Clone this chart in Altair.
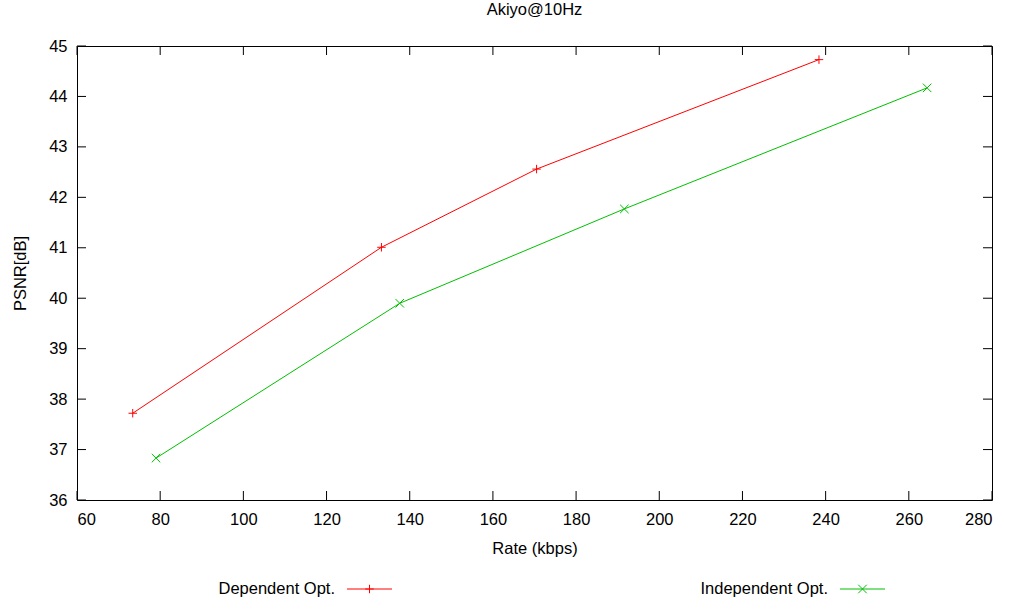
import altair as alt
import pandas as pd

series_names = ["Dependent Opt.", "Independent Opt."]
colors = ["#ff0000", "#00c000"]

rate_dep = [73.4, 133.2, 170.5, 238.4]
psnr_dep = [37.72, 41.01, 42.56, 44.73]
rate_ind = [79.0, 137.6, 191.6, 264.4]
psnr_ind = [36.83, 39.90, 41.77, 44.17]

x_ticks = [60, 80, 100, 120, 140, 160, 180, 200, 220, 240, 260, 280]
y_ticks = [36, 37, 38, 39, 40, 41, 42, 43, 44, 45]

W, H = 915, 454
FONT = "Liberation Sans"
FS = 16.5
TICK = 9

PLUS = "M-1,0L1,0M0,-1L0,1"
CROSS = "M-1,-1L1,1M-1,1L1,-1"
shapes = [PLUS, CROSS]

df = pd.DataFrame({
    "rate": rate_dep + rate_ind,
    "psnr": psnr_dep + psnr_ind,
    "series": [series_names[0]] * len(rate_dep) + [series_names[1]] * len(rate_ind),
})

xscale = alt.Scale(domain=[60, 280], nice=False, zero=False)
yscale = alt.Scale(domain=[36, 45], nice=False, zero=False)
cscale = alt.Scale(domain=series_names, range=colors)
sscale = alt.Scale(domain=series_names, range=shapes)

axis_style = dict(labelFont=FONT, labelFontSize=FS, labelColor="black",
                  titleFont=FONT, titleFontSize=FS, titleColor="black",
                  titleFontWeight="normal", ticks=False, tickSize=0,
                  domain=False, grid=False)

xaxis = alt.Axis(values=x_ticks, labelPadding=11, title="Rate (kbps)", titlePadding=13,
                 **axis_style)
yaxis = alt.Axis(values=y_ticks, labelPadding=10, title="PSNR[dB]", titlePadding=20,
                 **axis_style)

base = alt.Chart(df)

lines = base.mark_line(strokeWidth=1).encode(
    x=alt.X("rate:Q", scale=xscale, axis=xaxis),
    y=alt.Y("psnr:Q", scale=yscale, axis=yaxis),
    color=alt.Color("series:N", scale=cscale, legend=None),
)

points = base.mark_point(filled=False, size=72, strokeWidth=1, opacity=1).encode(
    x=alt.X("rate:Q", scale=xscale),
    y=alt.Y("psnr:Q", scale=yscale),
    color=alt.Color("series:N", scale=cscale, legend=None),
    shape=alt.Shape("series:N", scale=sscale, legend=None),
)

xt = alt.Chart(pd.DataFrame({"t": x_ticks}))
yt = alt.Chart(pd.DataFrame({"t": y_ticks}))

xticks_bottom = xt.mark_rule(color="black", strokeWidth=1).encode(
    x=alt.X("t:Q", scale=xscale), y=alt.value(H - TICK), y2=alt.value(H))
xticks_top = xt.mark_rule(color="black", strokeWidth=1).encode(
    x=alt.X("t:Q", scale=xscale), y=alt.value(0), y2=alt.value(TICK))
yticks_left = yt.mark_rule(color="black", strokeWidth=1).encode(
    y=alt.Y("t:Q", scale=yscale), x=alt.value(0), x2=alt.value(TICK))
yticks_right = yt.mark_rule(color="black", strokeWidth=1).encode(
    y=alt.Y("t:Q", scale=yscale), x=alt.value(W - TICK), x2=alt.value(W))

# legend (below the plot)
LY = 543
leg_layers = []
leg_pos = [(258, 270, 315), (751, 763, 808)]
for i, name in enumerate(series_names):
    tx, l0, l1 = leg_pos[i]
    ldf = pd.DataFrame({"s": [name]})
    lc = alt.Chart(ldf)
    leg_layers.append(lc.mark_text(align="right", baseline="middle", font=FONT, fontSize=FS,
                                   color="black").encode(
        x=alt.value(tx), y=alt.value(LY), text="s:N"))
    leg_layers.append(lc.mark_rule(color=colors[i], strokeWidth=1).encode(
        x=alt.value(l0), x2=alt.value(l1), y=alt.value(LY)))
    leg_layers.append(lc.mark_point(shape=shapes[i], filled=False, size=72, strokeWidth=1,
                                    color=colors[i], opacity=1).encode(
        x=alt.value((l0 + l1) / 2), y=alt.value(LY)))

chart = alt.layer(
    lines, points, xticks_bottom, xticks_top, yticks_left, yticks_right, *leg_layers
).properties(
    width=W, height=H,
    background="white",
    title=alt.Title("Akiyo@10Hz", font=FONT, fontSize=FS, fontWeight="normal",
                    color="black", offset=20, anchor="middle"),
    autosize=alt.AutoSizeParams(type="none"),
    padding={"left": 77, "top": 46, "right": 20, "bottom": 101},
).configure_view(
    stroke="black", strokeWidth=1
)

chart.save("out.html", embed_options={"renderer": "svg", "actions": False})
